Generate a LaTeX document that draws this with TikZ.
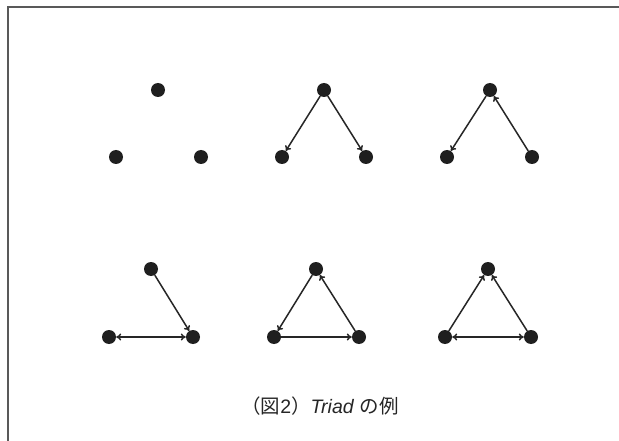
\documentclass[tikz,border=0pt]{standalone}
\usepackage{fontspec}
\setmainfont{Liberation Sans}
\newfontfamily\cjk{Noto Sans CJK JP}
\usetikzlibrary{arrows.meta}
\tikzset{
  dot/.style={circle,fill=black!88,inner sep=0pt,minimum size=14pt},
  edge/.style={line width=1.5pt,black!85,-{To[length=5pt,width=7pt]}},
  biedge/.style={line width=1.5pt,black!85,{To[length=5pt,width=7pt]}-{To[length=5pt,width=7pt]}},
  frame/.style={draw=black!65,line width=1.4pt}
}
\begin{document}
\begin{tikzpicture}[x=1pt,y=-1pt]
\useasboundingbox (0,0) rectangle (619,441);
\fill[white] (0,0) rectangle (619,441);
\coordinate (fl) at (8,441);
\coordinate (ft) at (8,7);
\coordinate (fr) at (619,7);
\draw[frame] (fl) -- (ft) -- (fr);
% group 1
\node[dot] (a1) at (158,90) {};
\node[dot] (b1) at (116,157) {};
\node[dot] (c1) at (201,157) {};
% group 2
\node[dot] (a2) at (324,90) {};
\node[dot] (b2) at (282,157) {};
\node[dot] (c2) at (366,157) {};
\draw[edge] (a2) -- (b2);
\draw[edge] (a2) -- (c2);
% group 3
\node[dot] (a3) at (490,90) {};
\node[dot] (b3) at (447,157) {};
\node[dot] (c3) at (532,157) {};
\draw[edge] (a3) -- (b3);
\draw[edge] (c3) -- (a3);
% group 4
\node[dot] (a4) at (151,269) {};
\node[dot] (b4) at (109,337) {};
\node[dot] (c4) at (193,337) {};
\draw[edge] (a4) -- (c4);
\draw[biedge] (b4) -- (c4);
% group 5
\node[dot] (a5) at (316,269) {};
\node[dot] (b5) at (274,337) {};
\node[dot] (c5) at (359,337) {};
\draw[edge] (a5) -- (b5);
\draw[edge] (b5) -- (c5);
\draw[edge] (c5) -- (a5);
% group 6
\node[dot] (a6) at (488,269) {};
\node[dot] (b6) at (445,337) {};
\node[dot] (c6) at (531,337) {};
\draw[edge] (b6) -- (a6);
\draw[edge] (c6) -- (a6);
\draw[biedge] (b6) -- (c6);
% caption
\node[font=\fontsize{19.5}{22}\selectfont,text=black!85] (cap) at (320,406) {{\cjk （図}2{\cjk ）}\textit{Triad} {\cjk の例}};
\end{tikzpicture}
\end{document}
